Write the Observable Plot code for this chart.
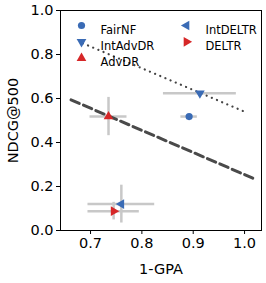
<!DOCTYPE html>
<html><head><meta charset="utf-8">
<script src="https://cdn.jsdelivr.net/npm/d3@7"></script>
<script src="https://cdn.jsdelivr.net/npm/@observablehq/plot@0.6"></script>
<style>body{margin:0;background:#fff;font-family:"DejaVu Sans",sans-serif}</style>
</head><body><div id="chart"></div>
<script>
const methods = ["FairNF","IntAdvDR","AdvDR","IntDELTR","DELTR"];
const gpa     = [0.892, 0.913, 0.735, 0.760, 0.745];
const ndcg    = [0.518, 0.624, 0.518, 0.120, 0.088];
const gpaErr  = [0.016, 0.071, 0.036, 0.065, 0.050];
const ndcgErr = [0.000, 0.000, 0.087, 0.086, 0.040];
const colors  = ["#3a6bb5","#3a6bb5","#d62728","#3a6bb5","#d62728"];
const rotations = [0, 180, 0, 270, 90];
const symbols = ["circle","triangle","triangle","triangle","triangle"];
const dottedX = [0.685, 1.002], dottedY = [0.851, 0.538];
const dashedX = [0.662, 1.016], dashedY = [0.594, 0.238];
const xTicks = [0.7, 0.8, 0.9, 1.0];
const yTicks = [0, 0.2, 0.4, 0.6, 0.8, 1.0];

const data = methods.map((m,i)=>({m, x:gpa[i], y:ndcg[i], xe:gpaErr[i], ye:ndcgErr[i], c:colors[i], r:rotations[i], s:symbols[i]}));
const dotted = dottedX.map((x,i)=>({x, y:dottedY[i]}));
const dashed = dashedX.map((x,i)=>({x, y:dashedY[i]}));

const legendMarks = data.flatMap((d,i)=>{
  const col = i < 3 ? 0 : 1, row = i < 3 ? i : i-3;
  const mx = col ? 126 : 21, tx = col ? 145 : 40, dy = 15 + row*16.3;
  return [
    Plot.dot([d], {frameAnchor:"top-left", dx:mx, dy, symbol:"s", fill:"c", rotate:"r", r:3.6}),
    Plot.text([d], {frameAnchor:"top-left", dx:tx, dy, text:"m", textAnchor:"start", fontSize:11.5, fill:"black"})
  ];
});

const chart = Plot.plot({
  width:266, height:283,
  marginLeft:60, marginRight:5, marginTop:10, marginBottom:53,
  style:{fontFamily:"DejaVu Sans", fontSize:"14.5px", background:"white", color:"black"},
  x:{domain:[0.6415,1.033]},
  y:{domain:[0,1]},
  symbol:{type:"identity"},
  color:{type:"identity"},
  marks:[
    Plot.ruleY(data, {y:"y", x1:d=>d.x-d.xe, x2:d=>d.x+d.xe, stroke:"#c8c8c8", strokeWidth:2.5}),
    Plot.ruleX(data.filter(d=>d.ye>0), {x:"x", y1:d=>d.y-d.ye, y2:d=>d.y+d.ye, stroke:"#c8c8c8", strokeWidth:2.5}),
    Plot.line(dotted, {x:"x", y:"y", stroke:"#444", strokeWidth:2.2, strokeDasharray:"0.1 5.5", strokeLinecap:"round"}),
    Plot.line(dashed, {x:"x", y:"y", stroke:"#4a4a4a", strokeWidth:3, strokeDasharray:"9 4.5"}),
    Plot.dot(data, {x:"x", y:"y", symbol:"s", fill:"c", rotate:"r", r:3.6}),
    ...legendMarks,
    Plot.frame({stroke:"black", strokeWidth:1}),
    Plot.axisX({ticks:xTicks, tickFormat:".1f", tickSize:4, tickPadding:3, fontSize:14.5, label:"1-GPA", labelAnchor:"center", labelArrow:"none", labelOffset:43}),
    Plot.axisY({ticks:yTicks, tickFormat:".1f", tickSize:4, tickPadding:3, fontSize:14.5, label:"NDCG@500", labelAnchor:"center", labelArrow:"none", labelOffset:53})
  ]
});
document.getElementById("chart").appendChild(chart);
</script></body></html>
